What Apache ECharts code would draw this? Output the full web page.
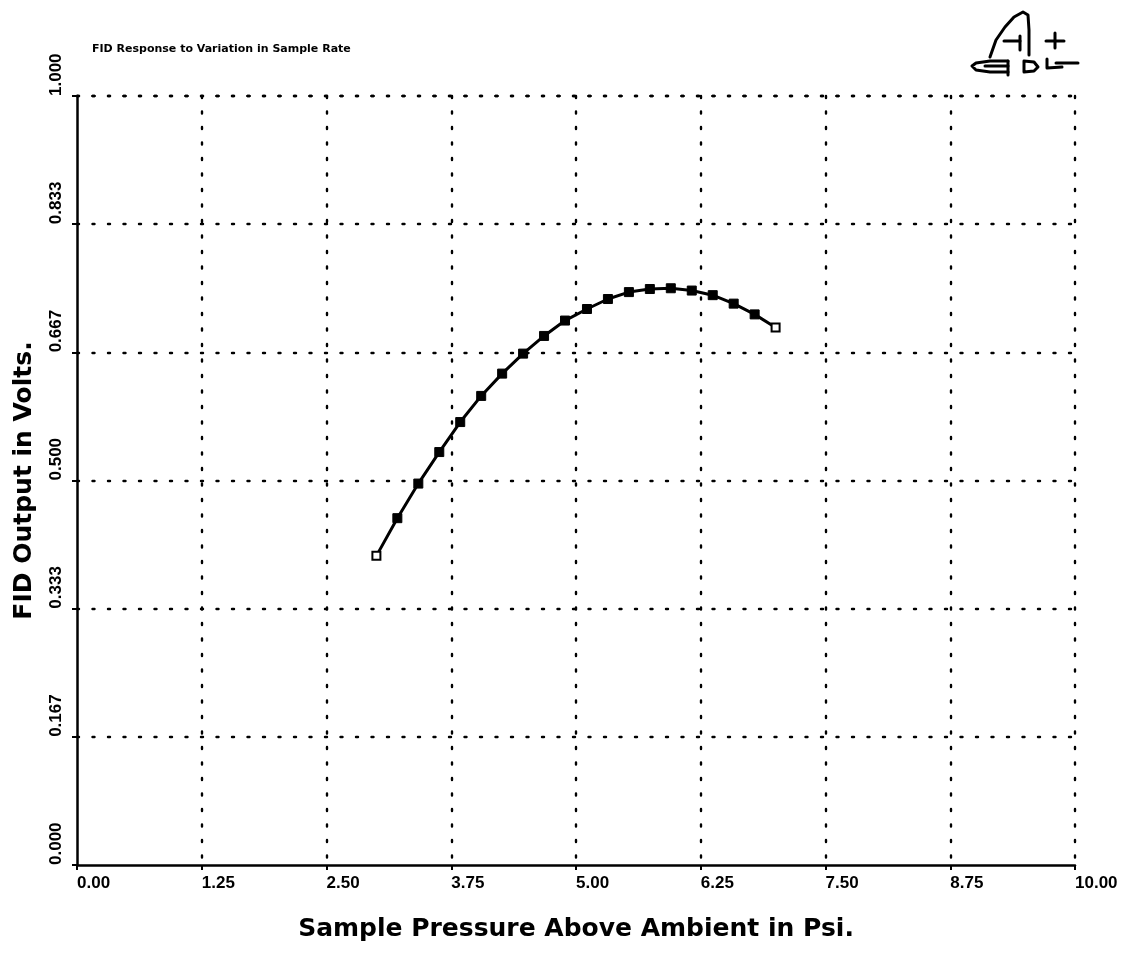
<!DOCTYPE html>
<html>
<head>
<meta charset="utf-8">
<script src="https://cdn.jsdelivr.net/npm/echarts@6/dist/echarts.min.js"></script>
<style>
html,body{margin:0;padding:0;background:#fff;}
#chart{width:1121px;height:954px;}
</style>
</head>
<body>
<div id="chart"></div>
<script>
// ---- data ----
const pressure = [3.00, 3.21, 3.42, 3.63, 3.84, 4.05, 4.26, 4.47, 4.68, 4.89,
                  5.11, 5.32, 5.53, 5.74, 5.95, 6.16, 6.37, 6.58, 6.79, 7.00];
const volts = [0.402, 0.451, 0.496, 0.537, 0.576, 0.610, 0.639, 0.665, 0.688, 0.708,
               0.723, 0.736, 0.745, 0.749, 0.750, 0.747, 0.741, 0.730, 0.716, 0.699];
const xTickLabels = ['0.00','1.25','2.50','3.75','5.00','6.25','7.50','8.75','10.00'];
const yTickLabels = ['0.000','0.167','0.333','0.500','0.667','0.833','1.000'];
const titleText = 'FID Response to Variation in Sample Rate';
const xName = 'Sample Pressure Above Ambient in Psi.';
const yName = 'FID Output in Volts.';

const seriesData = pressure.map((x, i) => {
  const item = { value: [x, volts[i]] };
  if (i === 0 || i === pressure.length - 1) {
    item.itemStyle = { color: '#fff', borderColor: '#000', borderWidth: 2 };
    item.symbolSize = 8;
  }
  return item;
});

const chart = echarts.init(document.getElementById('chart'), null, { renderer: 'canvas' });
const tickFont = { fontFamily: 'Liberation Sans', fontWeight: 'bold', fontSize: 17, color: '#000' };
const nameFont = { fontFamily: 'DejaVu Sans', fontWeight: 'bold', fontSize: 25, color: '#000' };
const dotted = { color: '#000', width: 2.4, type: [2, 13.5], cap: 'round' };

const logo = [
  // sail
  [[990,57],[996,40],[1005,27],[1014,17],[1023,12],[1028,15],[1029,30],[1029,55]],
  // inner -|
  [[1004,41],[1020,41]],
  [[1020,36],[1020,50]],
  // plus
  [[1046,41],[1064,41]],
  [[1055,33],[1055,48]],
  // eye / C
  [[1008,61],[990,61],[976,63],[972,66],[976,70],[990,72],[1008,72]],
  [[1008,61],[1008,75]],
  [[985,66],[1008,66]],
  // D
  [[1024,61],[1024,72],[1034,71],[1038,67],[1034,62],[1024,61]],
  // L and tail
  [[1047,59],[1047,68],[1062,67]],
  [[1056,63],[1078,63]]
].map(pts => ({
  type: 'polyline',
  shape: { points: pts },
  style: { stroke: '#000', lineWidth: 3, fill: null, lineCap: 'round', lineJoin: 'round' },
  silent: true
}));

chart.setOption({
  animation: false,
  backgroundColor: '#fff',
  title: {
    text: titleText,
    left: 87, top: 39,
    textStyle: { fontFamily: 'DejaVu Sans', fontWeight: 'bold', fontSize: 11, color: '#000' }
  },
  grid: { left: 77, right: 46, top: 96, bottom: 89, containLabel: false },
  xAxis: {
    type: 'value', min: 0, max: 10, interval: 1.25,
    name: xName, nameLocation: 'middle', nameGap: 52,
    nameTextStyle: nameFont,
    axisLine: { show: true, lineStyle: { color: '#000', width: 2.5 } },
    axisTick: { show: true, length: 5, lineStyle: { color: '#000', width: 2 } },
    axisLabel: Object.assign({
      margin: 10, align: 'left',
      formatter: (v) => xTickLabels[Math.round(v / 1.25)]
    }, tickFont),
    splitLine: { show: true, showMinLine: false, lineStyle: dotted }
  },
  yAxis: {
    type: 'value', min: 0, max: 1, interval: 1 / 6,
    name: yName, nameLocation: 'middle', nameGap: 40, nameRotate: 90,
    nameTextStyle: nameFont,
    axisLine: { show: true, lineStyle: { color: '#000', width: 2.5 } },
    axisTick: { show: true, length: 5, lineStyle: { color: '#000', width: 2 } },
    axisLabel: Object.assign({
      rotate: 90, margin: 12, align: 'left', verticalAlign: 'bottom',
      formatter: (v) => yTickLabels[Math.round(v * 6)]
    }, tickFont),
    splitLine: { show: true, showMinLine: false, lineStyle: dotted }
  },
  series: [{
    type: 'line',
    data: seriesData,
    symbol: 'rect',
    symbolSize: 9,
    showAllSymbol: true,
    lineStyle: { color: '#000', width: 3 },
    itemStyle: { color: '#000', borderColor: '#000', borderWidth: 1 },
    z: 5
  }],
  graphic: logo
});
</script>
</body>
</html>
